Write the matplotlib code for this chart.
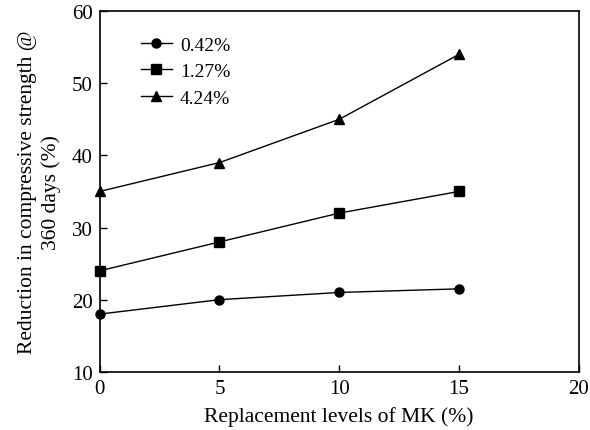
import matplotlib
matplotlib.use("Agg")
import matplotlib.pyplot as plt

plt.rcParams["font.family"] = ["Liberation Serif", "DejaVu Serif"]
plt.rcParams["mathtext.fontset"] = "stix"

mk_levels = [0, 5, 10, 15]
series_labels = ["0.42%", "1.27%", "4.24%"]
reduction_042 = [18, 20, 21, 21.5]
reduction_127 = [24, 28, 32, 35]
reduction_424 = [35, 39, 45, 54]

x_ticks = [0, 5, 10, 15, 20]
y_ticks = [10, 20, 30, 40, 50, 60]

fig = plt.figure(figsize=(5.9, 4.31), dpi=100)
ax = fig.add_axes([0.169, 0.135, 0.812, 0.837])

markers = ["o", "s", "^"]
all_series = [reduction_042, reduction_127, reduction_424]
for data, label, m in zip(all_series, series_labels, markers):
    ax.plot(mk_levels, data, color="black", linewidth=1.0, marker=m,
            markersize=6.5, label=label, clip_on=False, zorder=3)

ax.set_xlim(0, 20)
ax.set_ylim(10, 60)
ax.set_xticks(x_ticks)
ax.set_yticks(y_ticks)
ax.tick_params(direction="in", labelsize=15, length=5, width=1, pad=5)
for s in ax.spines.values():
    s.set_linewidth(1.2)

ax.set_xlabel("Replacement levels of MK (%)", fontsize=15.5, labelpad=6)
ax.set_ylabel("Reduction in compressive strength @\n360 days (%)", fontsize=15.5,
              labelpad=8, linespacing=1.25)

ax.legend(loc="upper left", bbox_to_anchor=(0.086, 0.93), frameon=False,
          fontsize=14, handlelength=1.6, labelspacing=0.45, handletextpad=0.4,
          borderpad=0, borderaxespad=0)

fig.savefig("out.png", dpi=100)
